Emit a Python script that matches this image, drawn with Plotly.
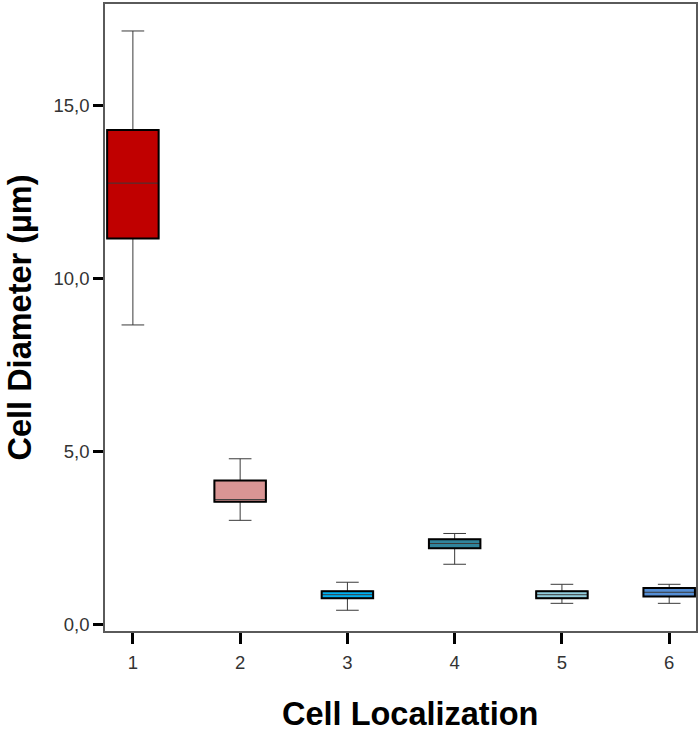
import plotly.graph_objects as go

categories = [1, 2, 3, 4, 5, 6]
category_labels = ["1", "2", "3", "4", "5", "6"]
lower_whisker = [8.65, 3.00, 0.40, 1.73, 0.60, 0.60]
q1_values = [11.15, 3.54, 0.75, 2.19, 0.75, 0.80]
median_values = [12.75, 3.60, 0.85, 2.33, 0.85, 0.92]
q3_values = [14.29, 4.15, 0.95, 2.45, 0.95, 1.04]
upper_whisker = [17.15, 4.78, 1.21, 2.62, 1.15, 1.15]
box_colors = ["#C00000", "#D99594", "#00B0F0", "#31849B", "#92CDDC", "#558ED5"]
y_tick_values = [0, 5, 10, 15]
y_tick_labels = ["0,0", "5,0", "10,0", "15,0"]

BOX_W = 0.48
FONT = "Liberation Sans, Arial, sans-serif"

fig = go.Figure()
for i, c in enumerate(categories):
    fig.add_trace(go.Box(
        x=[c], q1=[q1_values[i]], median=[median_values[i]], q3=[q3_values[i]],
        lowerfence=[lower_whisker[i]], upperfence=[upper_whisker[i]],
        width=BOX_W, whiskerwidth=0.44, fillcolor=box_colors[i],
        line=dict(color="#3a3a3a", width=1), boxpoints=False, showlegend=False,
        hoverinfo="skip",
    ))
    fig.add_shape(type="rect", xref="x", yref="y",
                  x0=c - BOX_W / 2, x1=c + BOX_W / 2,
                  y0=q1_values[i], y1=q3_values[i],
                  line=dict(color="#000000", width=2), fillcolor="rgba(0,0,0,0)",
                  layer="above")

fig.add_annotation(
    text="<b>Cell Localization</b>", xref="paper", yref="paper", x=0.5, y=0,
    xanchor="center", yanchor="middle", xshift=9, yshift=-83, showarrow=False,
    font=dict(family=FONT, size=32.5, color="#000000"),
)

fig.update_layout(
    width=700, height=729, boxmode="overlay",
    margin=dict(l=105, r=3, t=2, b=98),
    plot_bgcolor="white", paper_bgcolor="white",
    font=dict(family=FONT, color="#333333"),
)
fig.update_xaxes(
    range=[0.74, 6.25], tickmode="array", tickvals=categories, ticktext=category_labels,
    ticks="outside", ticklen=11, tickwidth=3, tickcolor="#000000",
    showline=True, linecolor="#5a5a5a", linewidth=1.5, mirror=True,
    showgrid=False, zeroline=False, ticklabelstandoff=3,
    tickfont=dict(size=18.5, color="#333333"),
)
fig.update_yaxes(
    range=[-0.2, 17.93], tickmode="array", tickvals=y_tick_values, ticktext=y_tick_labels,
    ticks="outside", ticklen=10, tickwidth=3, tickcolor="#000000",
    showline=True, linecolor="#5a5a5a", linewidth=1.5, mirror=True,
    showgrid=False, zeroline=False,
    tickfont=dict(size=18.5, color="#333333"),
    title=dict(text="<b>Cell Diameter (µm)</b>", font=dict(size=32.5, color="#000000"), standoff=12),
)
fig.write_html("out.html", config={"displayModeBar": False},
               post_script="document.body.style.margin='0';document.body.style.overflow='hidden';")
